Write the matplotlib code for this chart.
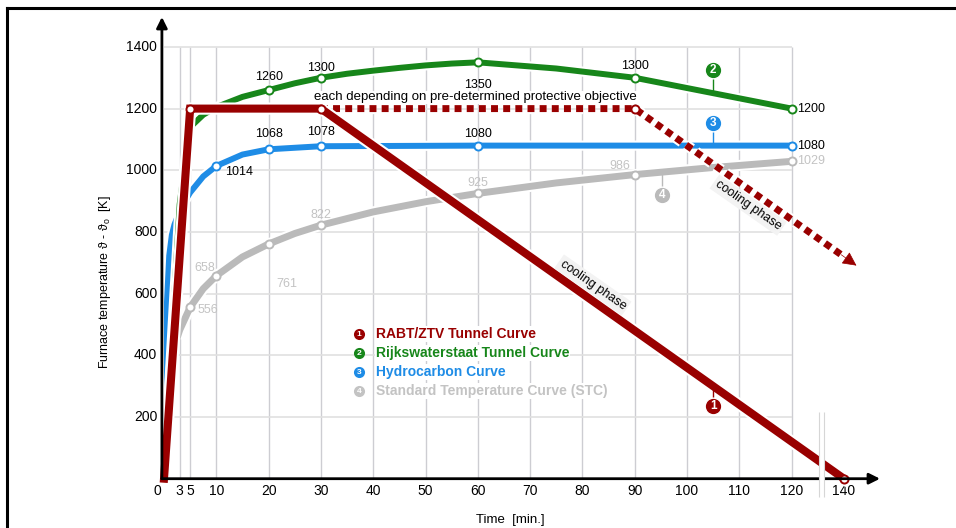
import numpy as np
import matplotlib.pyplot as plt
import matplotlib.patheffects as pe
from matplotlib.lines import Line2D
from matplotlib.patches import Rectangle

plt.rcParams['font.family'] = ['Liberation Sans', 'DejaVu Sans']

RED = '#990000'
GREEN = '#17861a'
BLUE = '#1e8ce6'
GREY = '#bababa'
GREY_TXT = '#c3c3c3'

# RABT/ZTV tunnel curve (real minutes)
rabt_t = [0, 5, 30, 140]
rabt_v = [0, 1200, 1200, 0]
rabt_marks_t = [5, 30, 140]
rabt_marks_v = [1200, 1200, 0]
# prolonged plateau, drawn dotted (plot coordinates)
rabt_dot_t = [30, 90, 129.5]
rabt_dot_v = [1200, 1200, 726]
rabt_arrow_tip = (132.4, 691)

# Rijkswaterstaat
rws_t = [0, 1, 2, 3, 4, 5, 7.5, 10, 15, 20, 25, 30, 35, 40, 45, 50, 55, 60, 75, 90, 105, 120]
rws_v = [0, 300, 600, 890, 1020, 1140, 1180, 1205, 1238, 1260, 1282, 1300, 1313, 1323, 1332,
         1340, 1346, 1350, 1330, 1300, 1250, 1200]
rws_marks_t = [20, 30, 60, 90, 120]
rws_marks_v = [1260, 1300, 1350, 1300, 1200]

# Hydrocarbon
hc_t = [0, 0.25, 0.5, 1, 1.5, 2, 3, 4, 5, 7.5, 10, 15, 20, 30, 60, 120]
hc_v = [0, 353, 548, 723, 790, 824, 867, 900, 928, 980, 1014, 1051, 1068, 1078, 1080, 1080]
hc_marks_t = [10, 20, 30, 60, 120]
hc_marks_v = [1014, 1068, 1078, 1080, 1080]

# Standard temperature curve (visible part starts behind the red ramp)
stc_t = [2.5, 3, 5, 7.5, 10, 15, 20, 25, 30, 40, 50, 60, 75, 90, 105, 120]
stc_v = [456, 482, 556, 616, 658, 719, 761, 795, 822, 865, 898, 925, 959, 986, 1009, 1029]
stc_marks_t = [5, 10, 20, 30, 60, 90, 120]
stc_marks_v = [556, 658, 761, 822, 925, 986, 1029]

x_ticks = [0, 3, 5, 10, 20, 30, 40, 50, 60, 70, 80, 90, 100, 110, 120, 140]
y_ticks = [200, 400, 600, 800, 1000, 1200, 1400]
x_grid = [3, 5, 10, 20, 30, 40, 50, 60, 70, 80, 90, 100, 110, 120]

legend_names = ['RABT/ZTV Tunnel Curve', 'Rijkswaterstaat Tunnel Curve',
                'Hydrocarbon Curve', 'Standard Temperature Curve (STC)']
legend_cols = [RED, GREEN, BLUE, GREY_TXT]

BREAK = 125


def squeeze(t):
    # axis is broken after 125 min, 140 sits where 130 would be
    t = np.asarray(t, dtype=float)
    return np.where(t <= BREAK, t, BREAK + (t - BREAK) / 3.0)


def halo(w):
    return [pe.Stroke(linewidth=w + 3, foreground='white'), pe.Normal()]


fig = plt.figure(figsize=(9.56, 5.28), dpi=100)
ax = fig.add_axes([164 / 956, 49.3 / 528, 716 / 956, 461.7 / 528])
ax.set_xlim(0, 136.9)
ax.set_ylim(0, 1497)
ax.set_axis_off()

# grid
ax.vlines(x_grid, 0, 1400, color='#cdcdd2', lw=1, zorder=1)
ax.hlines(y_ticks, 0, 120, color='#e0e0e0', lw=1.2, zorder=1)

# curves
ax.plot(stc_t, stc_v, color=GREY, lw=5, solid_capstyle='butt', path_effects=halo(5), zorder=3)
ax.plot(hc_t, hc_v, color=BLUE, lw=4.3, solid_capstyle='butt', path_effects=halo(4.3), zorder=4)
ax.plot(rws_t, rws_v, color=GREEN, lw=4.3, solid_capstyle='butt', path_effects=halo(4.3), zorder=5)
ax.plot(rabt_dot_t, rabt_dot_v, color=RED, lw=5, dashes=[1.0, 0.75], dash_capstyle='butt',
        path_effects=halo(5), zorder=6)
ax.annotate('', xy=rabt_arrow_tip, xytext=(rabt_dot_t[-1], rabt_dot_v[-1]),
            arrowprops=dict(arrowstyle='-|>', color=RED, lw=0.5, mutation_scale=22,
                            shrinkA=0, shrinkB=0), zorder=6, annotation_clip=False)
ax.plot(squeeze(rabt_t), rabt_v, color=RED, lw=5.8, solid_joinstyle='miter',
        path_effects=halo(5.8), zorder=7, clip_on=False)

# point markers
mk = dict(ls='none', marker='o', ms=5.8, mfc='white', mew=1.4, clip_on=False)
ax.plot(stc_marks_t, stc_marks_v, mec=GREY, zorder=3.5, **mk)
ax.plot(hc_marks_t, hc_marks_v, mec=BLUE, zorder=4.5, **mk)
ax.plot(rws_marks_t, rws_marks_v, mec=GREEN, zorder=5.5, **mk)
ax.plot([90], [1200], mec=RED, zorder=7.5, **mk)
ax.plot(squeeze(rabt_marks_t), rabt_marks_v, mec=RED, zorder=7.5, **mk)

# value labels
fs = 9
for t, v, s in [(20, 1302, '1260'), (30, 1331, '1300'), (90, 1337, '1300')]:
    ax.text(t, v, s, fontsize=fs, ha='center', va='center', zorder=9)
ax.text(60, 1276, '1350', fontsize=fs, ha='center', va='center', zorder=10)
for t, v, s in [(20, 1117, '1068'), (30, 1123, '1078'), (60, 1117, '1080')]:
    ax.text(t, v, s, fontsize=fs, ha='center', va='center', zorder=9)
ax.text(11.7, 993, '1014', fontsize=fs, ha='left', va='center', zorder=9)
ax.text(121, 1200, '1200', fontsize=fs, ha='left', va='center', zorder=9)
ax.text(121, 1080, '1080', fontsize=fs, ha='left', va='center', zorder=9)
ax.text(121, 1029, '1029', fontsize=fs, ha='left', va='center', color=GREY_TXT, zorder=9)
for t, v, s in [(7.7, 683, '658'), (30, 855, '822'), (60, 958, '925'), (87.2, 1013, '986')]:
    ax.text(t, v, s, fontsize=fs, ha='center', va='center', color=GREY_TXT, zorder=9)
ax.text(6.5, 546, '556', fontsize=fs, ha='left', va='center', color=GREY_TXT, zorder=9)
ax.text(21.5, 631, '761', fontsize=fs, ha='left', va='center', color=GREY_TXT, zorder=9)

ax.text(59.5, 1236, 'each depending on pre-determined protective objective', fontsize=9.5,
        ha='center', va='center', zorder=9,
        bbox=dict(boxstyle='square,pad=0.02', fc='white', ec='none'))
ax.text(82, 628, 'cooling phase', fontsize=9, rotation=-35, rotation_mode='anchor',
        ha='center', va='center', zorder=9,
        bbox=dict(boxstyle='square,pad=0.2', fc='#f3f3f3', ec='none'))
ax.text(111.7, 887, 'cooling phase', fontsize=9, rotation=-35, rotation_mode='anchor',
        ha='center', va='center', zorder=9,
        bbox=dict(boxstyle='square,pad=0.2', fc='#f3f3f3', ec='none'))

# numbered badges on the curves
for n, col, bx, by, cy in [('1', RED, 105, 236, 300), ('2', GREEN, 105, 1325, 1250),
                           ('3', BLUE, 105, 1154, 1080), ('4', GREY, 95.2, 919, 995)]:
    ax.plot([bx, bx], [by, cy], color=col, lw=1, zorder=8)
    ax.plot([bx], [by], marker='o', ms=12, mfc=col, mec='white', mew=1, zorder=8.5)
    ax.text(bx, by, n, color='white', fontsize=8.5, fontweight='bold', ha='center',
            va='center', zorder=9)

# legend
for i, (name, col) in enumerate(zip(legend_names, legend_cols)):
    yy = 469 - i * 61.7
    ax.plot([37.3], [yy], marker='o', ms=8, mfc=col, mec='none', zorder=9)
    ax.text(37.3, yy, str(i + 1), color='white', fontsize=6, fontweight='bold',
            ha='center', va='center', zorder=9.5)
    ax.text(40.5, yy, name, color=col, fontsize=10, fontweight='bold', ha='left',
            va='center', zorder=9,
            bbox=dict(boxstyle='square,pad=0.05', fc='white', ec='none'))

# axis break
ax.add_patch(Rectangle((125.2, -60), 0.9, 276, fc='white', ec='none', zorder=12, clip_on=False))
ax.vlines([125.2, 126.1], -60, 216, color='#d6d6d6', lw=0.8, zorder=12.5, clip_on=False)

# axes with arrows
arrow = dict(arrowstyle='-|>', color='k', lw=2, mutation_scale=16, shrinkA=0, shrinkB=0)
ax.annotate('', xy=(-0.4, 1497), xytext=(-0.4, 0), arrowprops=arrow, zorder=11,
            annotation_clip=False)
ax.annotate('', xy=(136.9, 0), xytext=(-0.4, 0), arrowprops=arrow, zorder=11,
            annotation_clip=False)

# tick labels
for t in x_ticks:
    xpos = float(squeeze(t))
    if t == 0:
        xpos = -1.2
    ax.text(xpos, -40, str(t), fontsize=10, ha='center', va='center')
for v in y_ticks:
    ax.text(-1.3, v, str(v), fontsize=10, ha='right', va='center')

ax.text(66.2, -134, 'Time  [min.]', fontsize=9.5, ha='center', va='center')
ax.text(-11.2, 637, r'Furnace temperature ϑ - ϑ$_\mathregular{o}$  [K]', fontsize=9,
        rotation=90, ha='center', va='center')

# outer frame (top and left edges visible)
fig.add_artist(Line2D([7 / 956, 7 / 956], [0, 1 - 8 / 528], color='k', lw=2.2))
fig.add_artist(Line2D([7 / 956, 1], [1 - 8 / 528, 1 - 8 / 528], color='k', lw=2.2))

fig.savefig('out.png', dpi=100)
